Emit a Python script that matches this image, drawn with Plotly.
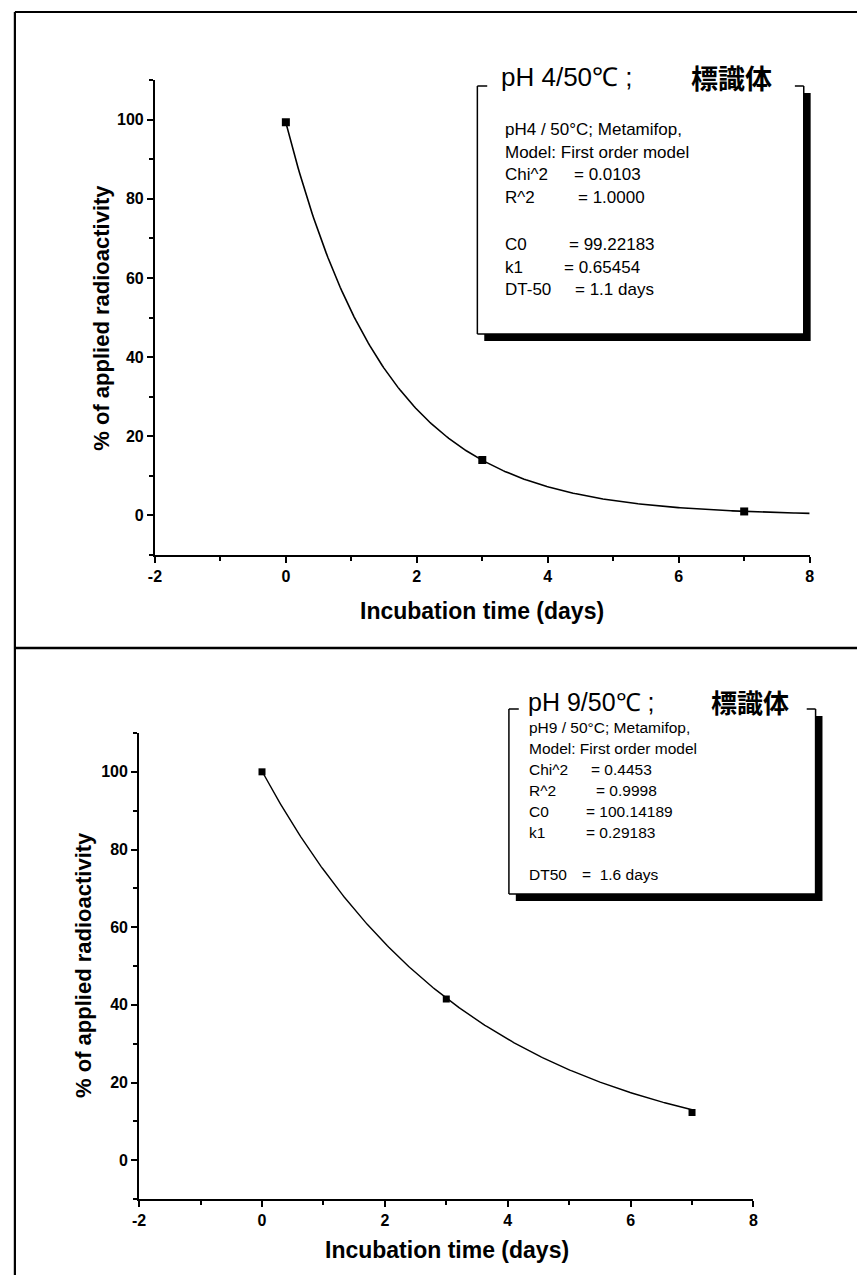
import numpy as np
import plotly.graph_objects as go

W, H = 862, 1275

# Hydrolysis data, pH 4 at 50 °C
days_ph4 = [0, 3, 7]
pct_ph4 = [99.3, 14.0, 1.0]
c0_ph4, k1_ph4 = 99.22183, 0.65454
fit_end_ph4 = 8

# Hydrolysis data, pH 9 at 50 °C
days_ph9 = [0, 3, 7]
pct_ph9 = [100.0, 41.5, 12.3]
c0_ph9, k1_ph9 = 100.14189, 0.29183
fit_end_ph9 = 7

x_range = [-2, 8]
y_range = [-10, 110]
x_tickvals = [-2, 0, 2, 4, 6, 8]
x_ticktext = ["-2", "0", "2", "4", "6", "8"]
y_tickvals = [0, 20, 40, 60, 80, 100]
y_ticktext = ["0", "20", "40", "60", "80", "100"]

title_ph4 = "pH 4/50\u2103 ;"
title_ph9 = "pH 9/50\u2103 ;"
title_cjk = "標識体"

stats_ph4 = [
    ("pH4 / 50°C; Metamifop,", None),
    ("Model: First order model", None),
    ("Chi^2", "= 0.0103"),
    ("R^2", "= 1.0000"),
    ("", None),
    ("C0", "= 99.22183"),
    ("k1", "= 0.65454"),
    ("DT-50", "= 1.1 days"),
]
stats_ph9 = [
    ("pH9 / 50°C; Metamifop,", None),
    ("Model: First order model", None),
    ("Chi^2", "= 0.4453"),
    ("R^2", "= 0.9998"),
    ("C0", "= 100.14189"),
    ("k1", "= 0.29183"),
    ("", None),
    ("DT50", "=  1.6 days"),
]


def px(x):
    return x / W


def py(y):
    return 1 - y / H


fig = go.Figure()

# fitted first-order curves C(t) = C0 * exp(-k1 t)
t4 = np.linspace(0, fit_end_ph4, 300)
t9 = np.linspace(0, fit_end_ph9, 300)
fig.add_trace(go.Scatter(x=t4, y=c0_ph4 * np.exp(-k1_ph4 * t4), mode="lines",
                         line=dict(color="black", width=1.6), xaxis="x", yaxis="y",
                         hoverinfo="skip"))
fig.add_trace(go.Scatter(x=days_ph4, y=pct_ph4, mode="markers",
                         marker=dict(symbol="square", size=8, color="black"),
                         xaxis="x", yaxis="y"))
fig.add_trace(go.Scatter(x=t9, y=c0_ph9 * np.exp(-k1_ph9 * t9), mode="lines",
                         line=dict(color="black", width=1.4), xaxis="x2", yaxis="y2",
                         hoverinfo="skip"))
fig.add_trace(go.Scatter(x=days_ph9, y=pct_ph9, mode="markers",
                         marker=dict(symbol="square", size=7, color="black"),
                         xaxis="x2", yaxis="y2"))

tick_font = dict(family="Liberation Sans, Arial, sans-serif", size=16, color="black")


def xaxis_cfg(x0, x1, anchor):
    return dict(domain=[px(x0), px(x1)], range=x_range, anchor=anchor,
                showline=True, linecolor="black", linewidth=2,
                ticks="outside", ticklen=6, tickwidth=2, tickcolor="black",
                tickmode="array", tickvals=x_tickvals,
                ticktext=[f"<b>{t}</b>" for t in x_ticktext],
                minor=dict(ticks="outside", ticklen=4, tickwidth=1.5, tickcolor="black",
                           tickmode="linear", tick0=0, dtick=1),
                tickfont=tick_font,
                showgrid=False, zeroline=False, fixedrange=True)


def yaxis_cfg(y_top, y_bottom, anchor):
    return dict(domain=[py(y_bottom), py(y_top)], range=y_range, anchor=anchor,
                showline=True, linecolor="black", linewidth=2,
                ticks="outside", ticklen=6, tickwidth=2, tickcolor="black",
                tickmode="array", tickvals=y_tickvals,
                ticktext=[f"<b>{t}</b>" for t in y_ticktext],
                minor=dict(ticks="outside", ticklen=4, tickwidth=1.5, tickcolor="black",
                           tickmode="linear", tick0=0, dtick=10),
                tickfont=tick_font,
                showgrid=False, zeroline=False, fixedrange=True)


shapes = []
annotations = []


def line(x0, y0, x1, y1, width=2):
    shapes.append(dict(type="line", xref="paper", yref="paper",
                       x0=px(x0), y0=py(y0), x1=px(x1), y1=py(y1),
                       line=dict(color="black", width=width)))


def rect(x0, y0, x1, y1, fill):
    shapes.append(dict(type="rect", xref="paper", yref="paper",
                       x0=px(x0), y0=py(y0), x1=px(x1), y1=py(y1),
                       fillcolor=fill, line=dict(width=0)))


def text(x, y, s, size, bold=False, xanchor="left", angle=0,
         family="Liberation Sans, Arial, sans-serif"):
    annotations.append(dict(xref="paper", yref="paper", x=px(x), y=py(y),
                            text=f"<b>{s}</b>" if bold else s, showarrow=False,
                            xanchor=xanchor, yanchor="middle", textangle=angle,
                            font=dict(family=family, size=size, color="black")))


def stats_box(x0, y0, x1, y1, shadow, title, title_x, cjk_x, title_y, title_size,
              rows, text_x, eq_xs, first_y, step, size):
    # drop shadow, white panel, then the frame with a gap for the heading
    rect(x0 + shadow, y0 + shadow, x1 + shadow, y1 + shadow, "black")
    rect(x0, y0, x1, y1, "white")
    line(x0, y0, x0, y1, 1.5)
    line(x0, y1, x1, y1, 1.5)
    line(x1, y0, x1, y1, 1.5)
    line(x0, y0, x0 + 10, y0, 1.5)
    line(x1 - 9, y0, x1, y0, 1.5)
    text(title_x, title_y, title, title_size)
    text(cjk_x, title_y, title_cjk, title_size + 1, bold=True,
         family="Noto Sans CJK JP, sans-serif")
    for i, (label, value) in enumerate(rows):
        yy = first_y + i * step
        if label:
            text(text_x, yy, label, size)
        if value:
            text(eq_xs[i], yy, value, size)


stats_box(477, 86, 808, 334, 7, title_ph4, 499, 692, 77, 26,
          stats_ph4, 503, [0, 0, 573, 577, 0, 568, 563, 574], 129, 23, 17)
stats_box(509, 709, 820, 894, 7, title_ph9, 526, 712, 702, 25,
          stats_ph9, 527, [0, 0, 590, 595, 585, 585, 0, 581], 727, 21, 15.5)

# outer frame and panel separator
line(8, 12, W, 12, 2)
line(8, 12, 8, H, 2.2)
line(8, 648, W, 648, 2.5)

# axis titles
text(95, 318, "% of applied radioactivity", 22, bold=True, xanchor="center", angle=-90)
text(482, 611, "Incubation time (days)", 23, bold=True, xanchor="center")
text(77, 965, "% of applied radioactivity", 22, bold=True, xanchor="center", angle=-90)
text(446, 1250, "Incubation time (days)", 23, bold=True, xanchor="center")

fig.update_layout(
    width=W, height=H,
    margin=dict(l=0, r=0, t=0, b=0),
    paper_bgcolor="white", plot_bgcolor="white",
    showlegend=False,
    xaxis=xaxis_cfg(150, 814, "y"),
    yaxis=yaxis_cfg(80, 555, "x"),
    xaxis2=xaxis_cfg(134, 757, "y2"),
    yaxis2=yaxis_cfg(733, 1199, "x2"),
    shapes=shapes,
    annotations=annotations,
    font=dict(family="Liberation Sans, Arial, sans-serif", color="black"),
)

fig.write_html("out.html")
